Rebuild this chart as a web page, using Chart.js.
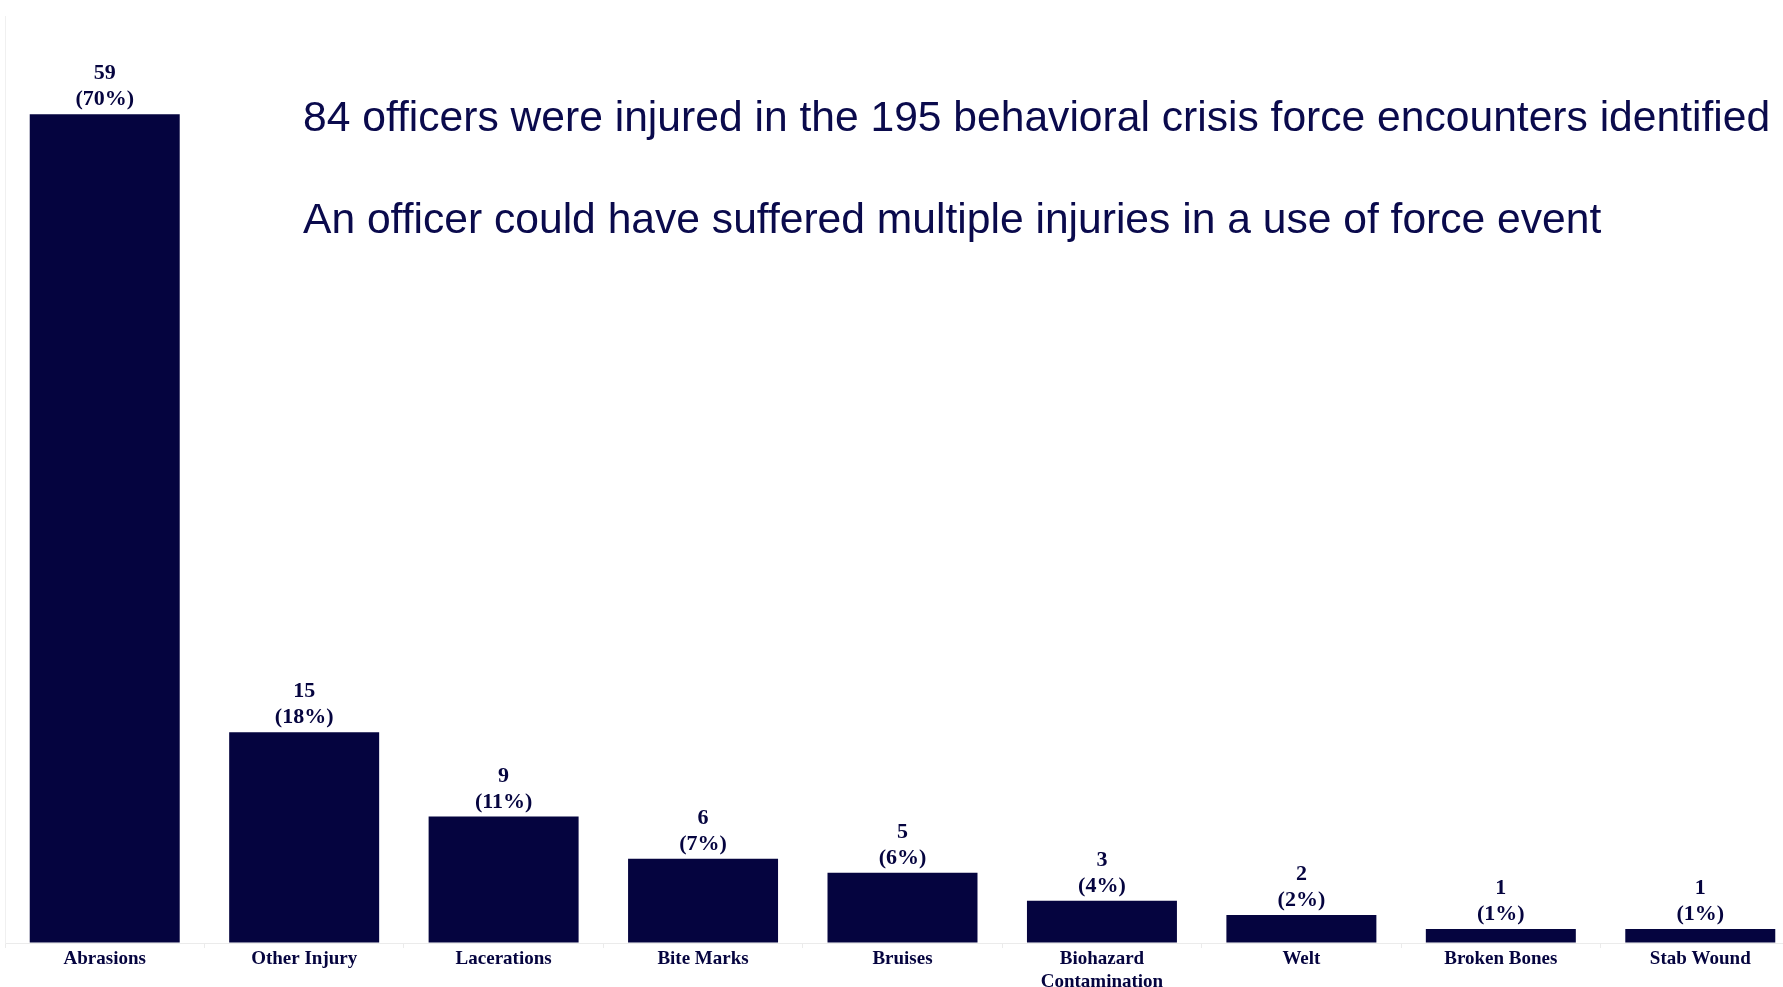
<!DOCTYPE html>
<html>
<head>
<meta charset="utf-8">
<title>Officer injuries</title>
<script src="https://cdn.jsdelivr.net/npm/chart.js@4.4.0/dist/chart.umd.min.js"></script>
<style>
    html, body { margin: 0; padding: 0; background: #fff; overflow: hidden; }
    /* the chart runs a little past the right edge of the window, like the original slide */
    #wrap { position: absolute; left: 0; top: 0; width: 1800px; height: 987px; }
</style>
</head>
<body>
<div id="wrap"><canvas id="injuryChart"></canvas></div>
<script>
const categories = ['Abrasions', 'Other Injury', 'Lacerations', 'Bite Marks', 'Bruises',
    ['Biohazard', 'Contamination'], 'Welt', 'Broken Bones', 'Stab Wound'];
const injuryCounts = [59, 15, 9, 6, 5, 3, 2, 1, 1];
const injuryPercents = [70, 18, 11, 7, 6, 4, 2, 1, 1];
const noteLines = [
    '84 officers were injured in the 195 behavioral crisis force encounters identified',
    'An officer could have suffered multiple injuries in a use of force event'
];

const navy = '#05043f';
const serifBold = '"Liberation Serif", "Times New Roman", serif';

// count + percent above each bar
const barLabels = {
    id: 'barLabels',
    afterDatasetsDraw(chart) {
        const ctx = chart.ctx;
        const meta = chart.getDatasetMeta(0);
        ctx.save();
        ctx.fillStyle = navy;
        ctx.font = 'bold 22px ' + serifBold;
        ctx.textAlign = 'center';
        ctx.textBaseline = 'alphabetic';
        meta.data.forEach((bar, i) => {
            ctx.fillText(String(injuryCounts[i]), bar.x, bar.y - 35);
            ctx.fillText('(' + injuryPercents[i] + '%)', bar.x, bar.y - 9);
        });
        ctx.restore();
    }
};

// the two sentences in the upper right
const notes = {
    id: 'notes',
    afterDraw(chart) {
        const ctx = chart.ctx;
        ctx.save();
        ctx.fillStyle = '#0a0a4c';
        ctx.font = '42.6px "Liberation Sans", Arial, sans-serif';
        ctx.textAlign = 'left';
        ctx.textBaseline = 'alphabetic';
        ctx.fillText(noteLines[0], 303, 131);
        ctx.fillText(noteLines[1], 303, 233);
        ctx.restore();
    }
};

const ctx = document.getElementById('injuryChart').getContext('2d');
new Chart(ctx, {
    type: 'bar',
    data: {
        labels: categories,
        datasets: [{
            data: injuryCounts,
            backgroundColor: navy,
            borderWidth: 0,
            barPercentage: 0.752,
            categoryPercentage: 1
        }]
    },
    options: {
        responsive: true,
        maintainAspectRatio: false,
        animation: false,
        layout: { padding: { top: 16, left: 0, right: 0, bottom: 0 } },
        plugins: {
            legend: { display: false },
            tooltip: { enabled: false }
        },
        scales: {
            x: {
                grid: { drawOnChartArea: false, drawTicks: true, tickLength: 5, color: '#ebebeb' },
                border: { color: '#ebebeb' },
                ticks: {
                    color: navy,
                    padding: 0,
                    maxRotation: 0,
                    autoSkip: false,
                    font: { family: serifBold, size: 19, weight: 'bold', lineHeight: 1.2 }
                },
                afterFit(scale) { scale.height = 44; }
            },
            y: {
                min: 0,
                max: 66,
                ticks: { display: false },
                grid: { drawOnChartArea: false, drawTicks: false },
                border: { color: '#f0f0f0' },
                afterFit(scale) { scale.width = 5; }
            }
        }
    },
    plugins: [barLabels, notes]
});
</script>
</body>
</html>
